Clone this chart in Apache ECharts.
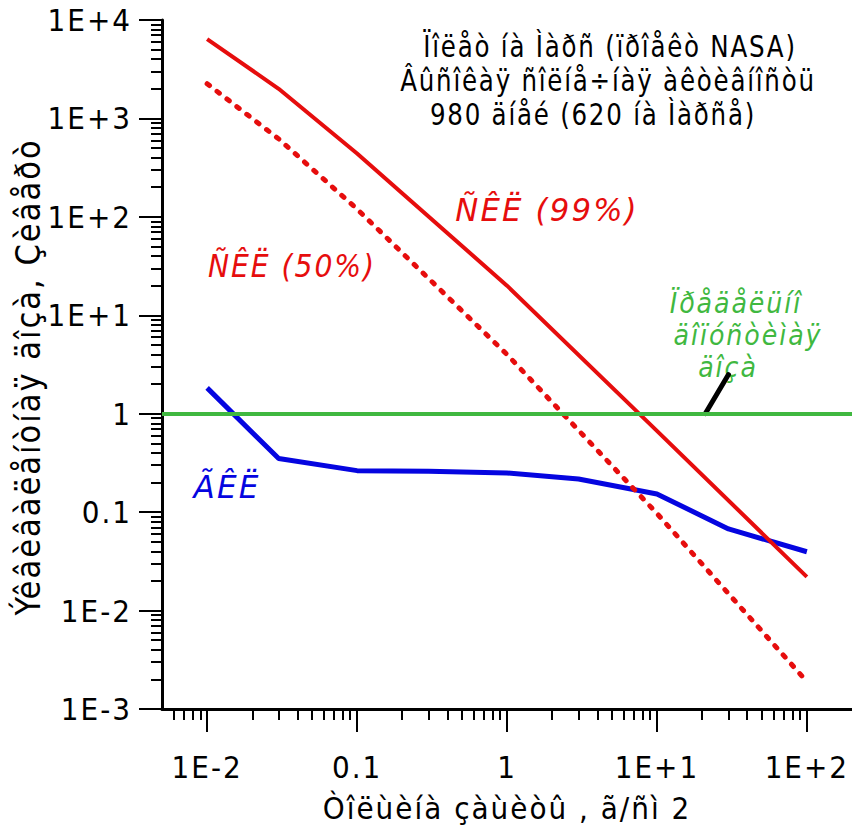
<!DOCTYPE html>
<html>
<head>
<meta charset="utf-8">
<script src="https://cdn.jsdelivr.net/npm/echarts@6/dist/echarts.min.js"></script>
<style>
  html, body { margin: 0; padding: 0; background: #fff; }
  #chart { width: 852px; height: 827px; }
  #chart text { letter-spacing: 2px; }
</style>
</head>
<body>
<div id="chart"></div>
<script>
// --- donnees (doses en Sv, epaisseur en g/cm2) ---
const xMin = 0.005;
const xMax = 200;
const yMin = 0.001;
const yMax = 10000;

const xMajor = [0.01, 0.1, 1, 10, 100];
const xMajorLabels = ["1E-2", "0.1", "1", "1E+1", "1E+2"];
const yMajor = [0.001, 0.01, 0.1, 1, 10, 100, 1000, 10000];
const yMajorLabels = ["1E-3", "1E-2", "0.1", "1", "1E+1", "1E+2", "1E+3", "1E+4"];

const skl99X = [0.01, 0.03, 0.1, 1, 10, 100];
const skl99Y = [6400, 2000, 440, 20, 0.67, 0.022];

const skl50X = [0.01, 0.03, 0.1, 1, 10, 100];
const skl50Y = [2250, 620, 120, 4.0, 0.097, 0.0019];

const gklX = [0.01, 0.03, 0.1, 0.3, 1, 3, 10, 30, 100];
const gklY = [1.83, 0.35, 0.264, 0.26, 0.25, 0.217, 0.153, 0.0675, 0.0396];

const doseLimit = 1;
const pointerX = [21, 30];
const pointerY = [1, 2.5];

const xTitle = "Òîëùèíà çàùèòû , ã/ñì 2";
const yTitle = "Ýêâèâàëåíòíàÿ äîçà, Çèâåðò";
const titleLines = ["Ïîëåò íà Ìàðñ (ïðîåêò NASA)", "Âûñîêàÿ ñîëíå÷íàÿ àêòèâíîñòü", "980 äíåé (620 íà Ìàðñå)"];
const limitLines = ["Ïðåäåëüíî", "äîïóñòèìàÿ", "äîçà"];

const RED = "#e60d0d";
const BLUE = "#0505e0";
const GREEN = "#40b840";
const FONT = '"Liberation Sans Narrow", "Arial Narrow", "DejaVu Sans Condensed", sans-serif';

function zip(xs, ys) {
  return xs.map((x, i) => [x, ys[i]]);
}

// graduations secondaires 2..9 de chaque decade
function minorTicks(lo, hi) {
  const out = [];
  for (let e = -4; e <= 4; e += 1) {
    for (let m = 2; m <= 9; m += 1) {
      const v = +(m * Math.pow(10, e)).toPrecision(3);
      if (v > lo * 1.0001 && v < hi * 0.9999) out.push(v);
    }
  }
  return out;
}

function labelFor(values, labels) {
  return (v) => {
    const i = values.findIndex((t) => Math.abs(Math.log10(t) - Math.log10(v)) < 1e-6);
    return i < 0 ? "" : labels[i];
  };
}

// texte libre, etire en hauteur comme la police d'origine
function note(text, x, y, color, size, sx, italic) {
  return {
    type: "text", x, y, scaleX: sx,
    style: {
      text, fill: color, font: `${italic ? "italic " : ""}${size}px ${FONT}`,
      textAlign: "center", textVerticalAlign: "middle"
    }
  };
}

const tickStyle = { color: "#000", width: 2 };
const labelStyle = { fontSize: 31, fontFamily: FONT, color: "#000" };

const chart = echarts.init(document.getElementById("chart"), null, { renderer: "svg" });

chart.setOption({
  animation: false,
  backgroundColor: "#fff",
  grid: { left: 162, right: 0, top: 20, bottom: 118, containLabel: false, outerBoundsMode: "none" },
  xAxis: [
    {
      type: "log", logBase: 10, min: xMin, max: xMax, position: "bottom",
      splitLine: { show: false },
      axisLine: { show: true, onZero: false, lineStyle: { color: "#000", width: 3 } },
      axisTick: { show: true, length: 23, lineStyle: tickStyle, customValues: xMajor },
      axisLabel: { ...labelStyle, margin: 42, customValues: xMajor, formatter: labelFor(xMajor, xMajorLabels) },
      name: xTitle, nameLocation: "middle", nameGap: 83,
      nameTextStyle: { fontSize: 31, fontFamily: FONT, color: "#000" }
    },
    {
      type: "log", logBase: 10, min: xMin, max: xMax, position: "bottom",
      splitLine: { show: false },
      axisLine: { show: false },
      axisTick: { show: true, length: 11, lineStyle: tickStyle, customValues: minorTicks(xMin, xMax) },
      axisLabel: { show: false }
    }
  ],
  yAxis: [
    {
      type: "log", logBase: 10, min: yMin, max: yMax, position: "left",
      splitLine: { show: false },
      axisLine: { show: true, onZero: false, lineStyle: { color: "#000", width: 3 } },
      axisTick: { show: true, length: 23, lineStyle: tickStyle, customValues: yMajor },
      axisLabel: { ...labelStyle, margin: 30, padding: [12, 0, 0, 0], customValues: yMajor, formatter: labelFor(yMajor, yMajorLabels) },
      name: yTitle, nameLocation: "middle", nameGap: 108,
      nameTextStyle: { fontSize: 34, fontFamily: FONT, color: "#000", padding: [0, 25, 0, 0] }
    },
    {
      type: "log", logBase: 10, min: yMin, max: yMax, position: "left",
      splitLine: { show: false },
      axisLine: { show: false },
      axisTick: { show: true, length: 11, lineStyle: tickStyle, customValues: minorTicks(yMin, yMax) },
      axisLabel: { show: false }
    }
  ],
  series: [
    {
      name: "ÃÊË", type: "line", data: zip(gklX, gklY), symbol: "none",
      lineStyle: { color: BLUE, width: 5 }, z: 3
    },
    {
      name: "ÑÊË (50%)", type: "line", data: zip(skl50X, skl50Y), symbol: "none",
      lineStyle: { color: RED, width: 5, type: [3, 9.5], cap: "round" }, z: 3
    },
    {
      name: "ÑÊË (99%)", type: "line", data: zip(skl99X, skl99Y), symbol: "none",
      lineStyle: { color: RED, width: 4 }, z: 3
    },
    {
      name: "pointer", type: "line", data: zip(pointerX, pointerY), symbol: "none",
      lineStyle: { color: "#000", width: 5, cap: "round" }, z: 4
    },
    {
      name: "limit", type: "line", data: [], z: 5,
      markLine: {
        silent: true, symbol: ["none", "none"], label: { show: false },
        lineStyle: { color: GREEN, width: 4, type: "solid" },
        data: [{ yAxis: doseLimit }]
      }
    }
  ],
  graphic: [
    note(titleLines[0], 610, 46, "#000", 31, 0.88, false),
    note(titleLines[1], 608, 80, "#000", 31, 0.88, false),
    note(titleLines[2], 593, 114, "#000", 31, 0.88, false),
    note("ÑÊË (99%)", 547, 210, RED, 32, 1.07, true),
    note("ÑÊË (50%)", 292, 266, RED, 32, 0.98, true),
    note("ÃÊË", 227, 487, BLUE, 32, 1.08, true),
    note(limitLines[0], 736, 303, GREEN, 29, 0.97, true),
    note(limitLines[1], 748, 335, GREEN, 29, 0.97, true),
    note(limitLines[2], 728, 367, GREEN, 29, 0.97, true)
  ]
});
</script>
</body>
</html>
